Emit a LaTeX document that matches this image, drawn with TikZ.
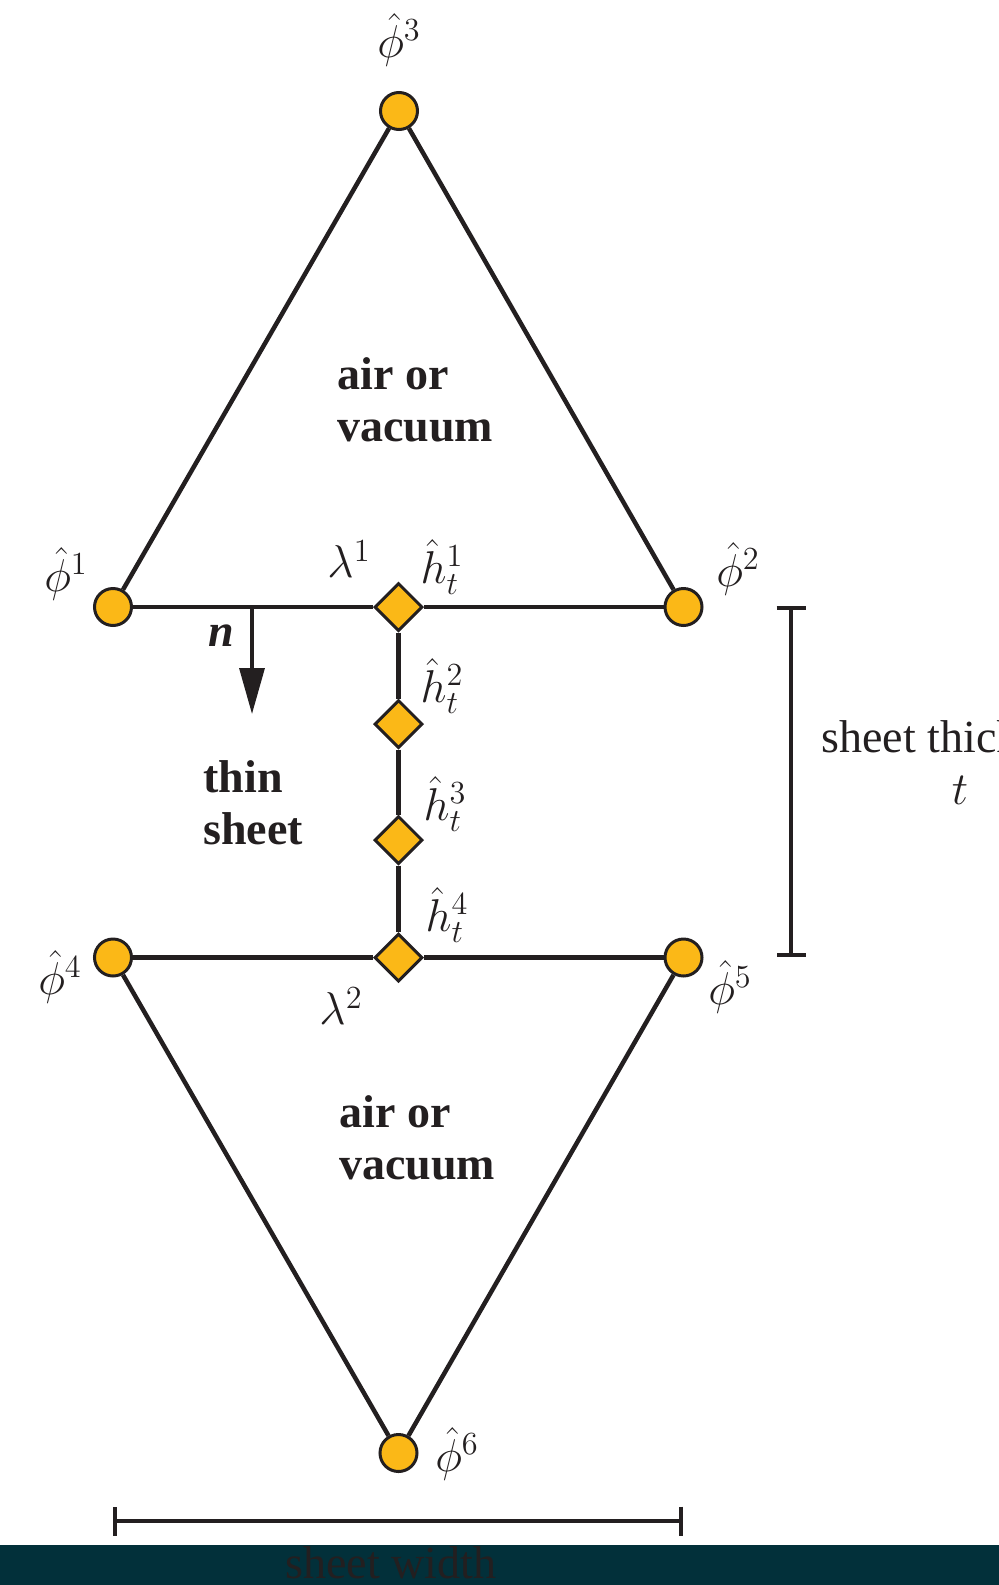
\RequirePackage{fix-cm}
\documentclass[tikz,border=0pt]{standalone}
\usepackage{fontspec}
\setmainfont{Liberation Serif}
\usetikzlibrary{shapes.geometric,arrows.meta}
\definecolor{ylw}{HTML}{FBB817}
\definecolor{ink}{HTML}{231F20}
\definecolor{bandcol}{HTML}{02303A}
\tikzset{
  pnode/.style={circle, draw=ink, fill=ylw, line width=1.5pt, minimum size=18.5pt, inner sep=0pt},
  dnode/.style={diamond, draw=ink, fill=ylw, line width=1.5pt, minimum size=24pt, inner sep=0pt},
  edge/.style={draw=ink, line width=2.25pt},
  lbl/.style={text=ink, font=\fontsize{23pt}{26pt}\selectfont, inner sep=0pt},
  region/.style={text=ink, font=\fontsize{23pt}{26pt}\selectfont\bfseries, align=left, anchor=west, inner sep=0pt},
  dim/.style={draw=ink, line width=2.2pt, {Bar[width=14.5pt]}-{Bar[width=14.5pt]}}
}
\begin{document}
\begin{tikzpicture}[x=0.5pt,y=-0.5pt]
\useasboundingbox (0,0) rectangle (999,1585);
\clip (0,0) rectangle (999,1585);
% nodes
\node[pnode] (p3) at (399,111) {};
\node[pnode] (p1) at (113,607) {};
\node[pnode] (p2) at (683.5,607) {};
\node[dnode] (d1) at (398.5,607) {};
\node[dnode] (d2) at (398.5,724) {};
\node[dnode] (d3) at (398.5,840) {};
\node[dnode] (d4) at (398.5,957.5) {};
\node[pnode] (p4) at (113,957.5) {};
\node[pnode] (p5) at (683.5,957.5) {};
\node[pnode] (p6) at (398.5,1453) {};
% edges
\draw[edge] (p1) -- (p3) -- (p2);
\draw[edge] (p1) -- (d1) -- (p2);
\draw[edge] (d1) -- (d2) -- (d3) -- (d4);
\draw[edge] (p4) -- (d4) -- (p5);
\draw[edge] (p4) -- (p6) -- (p5);
% normal arrow
\coordinate (nstart) at (252,607);
\coordinate (ntip) at (252,714);
\draw[draw=ink, fill=ink, line width=1.7pt, -{Triangle[length=23pt,width=12.5pt]}] (nstart) -- (ntip);
\node[lbl, font=\fontsize{23pt}{26pt}\selectfont\bfseries\itshape] (nlab) at (221,636) {n};
% labels
\node[lbl] (l3) at (399,40) {$\hat\phi^3$};
\node[lbl] (l1) at (66,574) {$\hat\phi^1$};
\node[lbl] (l2) at (738,569) {$\hat\phi^2$};
\node[lbl] (l4) at (60,977) {$\hat\phi^4$};
\node[lbl] (l5) at (730,987) {$\hat\phi^5$};
\node[lbl] (l6) at (457,1454) {$\hat\phi^6$};
\node[lbl] (la1) at (349,559) {$\lambda^1$};
\node[lbl] (la2) at (341,1006) {$\lambda^2$};
\node[lbl] (h1) at (442,567) {$\hat h_t^1$};
\node[lbl] (h2) at (442,686) {$\hat h_t^2$};
\node[lbl] (h3) at (445,804) {$\hat h_t^3$};
\node[lbl] (h4) at (447,915) {$\hat h_t^4$};
% regions
\node[region] (air1) at (337,400) {air or\\vacuum};
\node[region] (thin) at (203,803) {thin\\sheet};
\node[region] (air2) at (339,1138) {air or\\vacuum};
% thickness dimension
\coordinate (tt) at (791,606);
\coordinate (tb) at (791,957);
\draw[dim] (tt) -- (tb);
\node[lbl, align=center] (thick) at (960,763) {sheet thickness\\$t$};
% width dimension
\coordinate (wl) at (113,1521);
\coordinate (wr) at (683,1521);
\draw[dim] (wl) -- (wr);
\fill[bandcol] (0,1545) rectangle (999,1585);
\node[lbl] (wlab) at (391,1563) {sheet width};
\end{tikzpicture}
\end{document}
